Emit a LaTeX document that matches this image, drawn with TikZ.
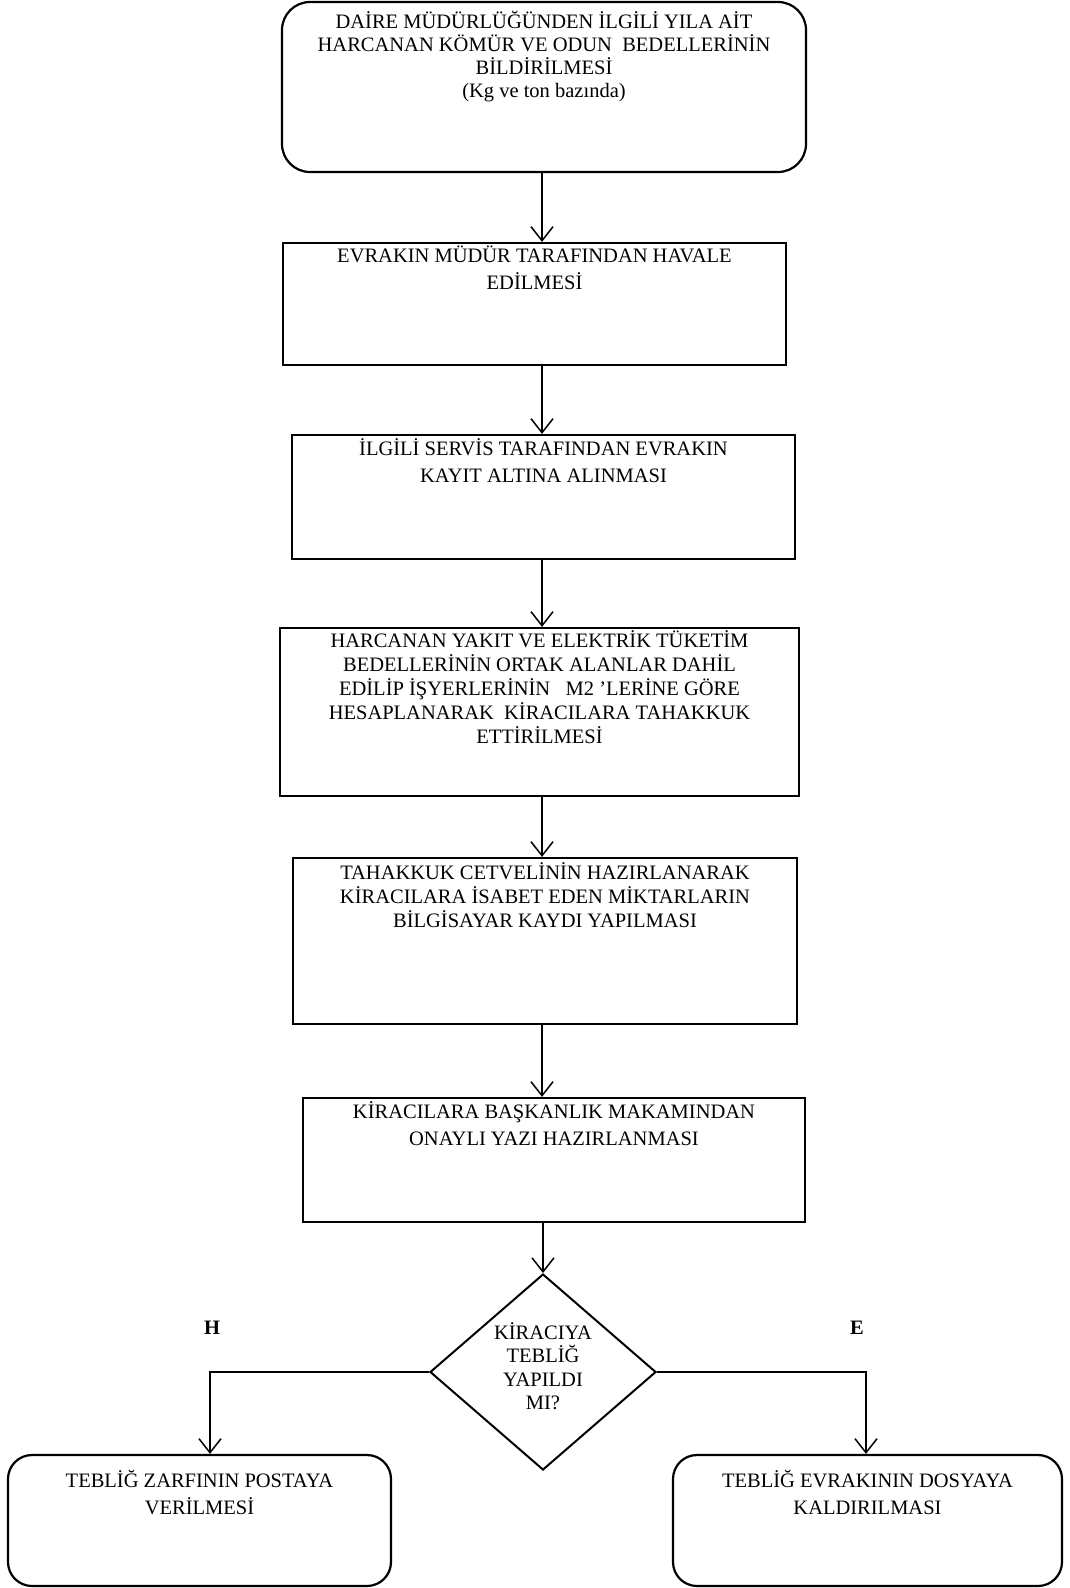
\documentclass[tikz,border=0pt]{standalone}
\usepackage{fontspec}
\setmainfont{Liberation Serif}
\usetikzlibrary{shapes.geometric,arrows.meta,calc}
\begin{document}
\begin{tikzpicture}[x=1pt,y=-1pt,
  every node/.style={font=\fontsize{20.5}{24}\selectfont},
  boxr/.style={draw, line width=2.2pt, rectangle, inner sep=0pt},
  rbox/.style={boxr, rounded corners=28pt},
  txt/.style={anchor=north, align=center, inner sep=0pt},
  two/.style={font=\fontsize{20.5}{27}\selectfont},
  arr/.style={line width=1.5pt, -{Straight Barb[length=14pt,width=22pt,line width=1.5pt]}},
  dec/.style={draw, diamond, line width=2pt, inner sep=0pt},
  lab/.style={font=\fontsize{20.5}{25}\selectfont\bfseries, inner sep=0pt}]
\useasboundingbox (0,0) rectangle (1069,1588);
\coordinate (ax) at (542,0);
\coordinate (lx) at (210,0);
\coordinate (rx) at (866,0);

\node[rbox, minimum width=524pt, minimum height=170pt] (b1) at (544,87) {};
\node[txt, font=\fontsize{20.5}{23}\selectfont] (t1) at ($(b1.north)+(0,10)$) {DAİRE MÜDÜRLÜĞÜNDEN İLGİLİ YILA AİT\\HARCANAN KÖMÜR VE ODUN\ \ BEDELLERİNİN\\BİLDİRİLMESİ\\(Kg ve ton bazında)};

\node[boxr, minimum width=503pt, minimum height=122pt] (b2) at (534.5,304) {};
\node[txt, two] (t2) at ($(b2.north)+(0,4)$) {EVRAKIN MÜDÜR TARAFINDAN HAVALE\\EDİLMESİ};

\node[boxr, minimum width=503pt, minimum height=124pt] (b3) at (543.5,497) {};
\node[txt, two] (t3) at ($(b3.north)+(0,4)$) {İLGİLİ SERVİS TARAFINDAN EVRAKIN\\KAYIT ALTINA ALINMASI};

\node[boxr, minimum width=519pt, minimum height=168pt] (b4) at (539.5,712) {};
\node[txt] (t4) at ($(b4.north)+(0,3)$) {HARCANAN YAKIT VE ELEKTRİK TÜKETİM\\BEDELLERİNİN ORTAK ALANLAR DAHİL\\EDİLİP İŞYERLERİNİN\ \ \ M2 \symbol{39}LERİNE GÖRE\\HESAPLANARAK\ \ KİRACILARA TAHAKKUK\\ETTİRİLMESİ};

\node[boxr, minimum width=504pt, minimum height=166pt] (b5) at (545,941) {};
\node[txt] (t5) at ($(b5.north)+(0,5)$) {TAHAKKUK CETVELİNİN HAZIRLANARAK\\KİRACILARA İSABET EDEN MİKTARLARIN\\BİLGİSAYAR KAYDI YAPILMASI};

\node[boxr, minimum width=502pt, minimum height=124pt] (b6) at (554,1160) {};
\node[txt, two] (t6) at ($(b6.north)+(0,4)$) {KİRACILARA BAŞKANLIK MAKAMINDAN\\ONAYLI YAZI HAZIRLANMASI};

\node[dec, minimum width=226pt, minimum height=196pt] (d) at (543,1372) {};
\node[align=center, inner sep=0pt, font=\fontsize{20.5}{23.5}\selectfont] (td) at (543,1366) {KİRACIYA\\TEBLİĞ\\YAPILDI\\MI?};

\node[rbox, rounded corners=24pt, minimum width=383pt, minimum height=131pt] (b7) at (199.5,1520.5) {};
\node[txt, two] (t7) at ($(b7.north)+(0,16)$) {TEBLİĞ ZARFININ POSTAYA\\VERİLMESİ};

\node[rbox, rounded corners=24pt, minimum width=389pt, minimum height=131pt] (b8) at (867.5,1520.5) {};
\node[txt, two] (t8) at ($(b8.north)+(0,16)$) {TEBLİĞ EVRAKININ DOSYAYA\\KALDIRILMASI};

\node[lab] (h) at (212,1328) {H};
\node[lab] (e) at (857,1328) {E};

\draw[arr] (b1.south -| ax) -- (b2.north -| ax);
\draw[arr] (b2.south -| ax) -- (b3.north -| ax);
\draw[arr] (b3.south -| ax) -- (b4.north -| ax);
\draw[arr] (b4.south -| ax) -- (b5.north -| ax);
\draw[arr] (b5.south -| ax) -- (b6.north -| ax);
\draw[arr] (b6.south -| d.north) -- (d.north);
\draw[arr] (d.west) -| (b7.north -| lx);
\draw[arr] (d.east) -| (b8.north -| rx);
\end{tikzpicture}
\end{document}
